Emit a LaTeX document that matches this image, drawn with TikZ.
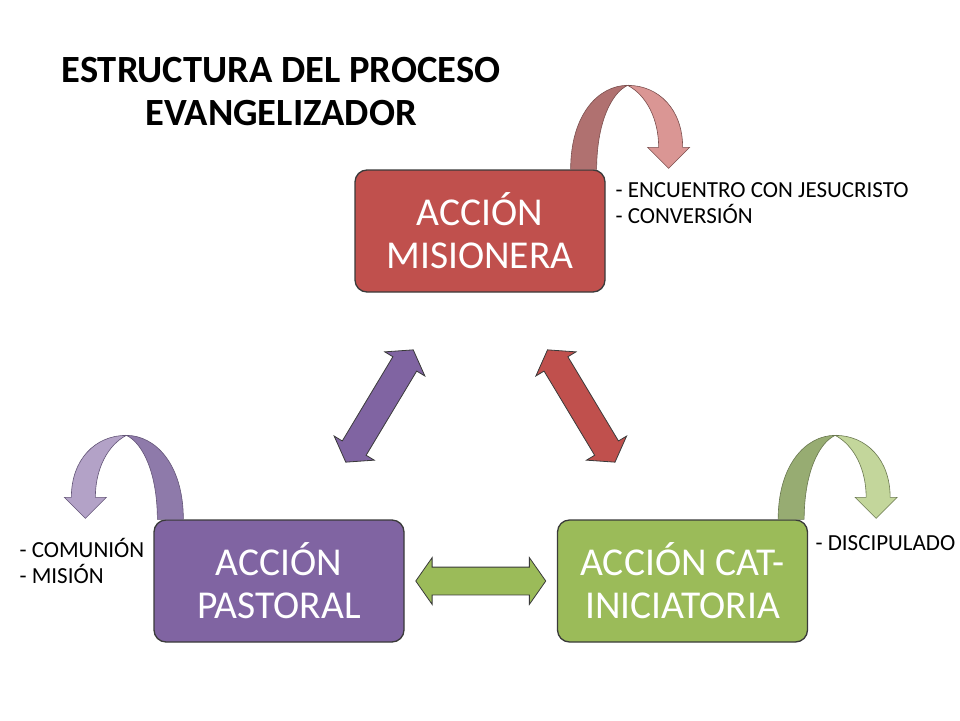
\documentclass[tikz,border=0pt]{standalone}
\usepackage{fontspec}
\setmainfont{Carlito}
\usetikzlibrary{shapes.arrows,calc}

\definecolor{rojo}{HTML}{C0504D}
\definecolor{rojoosc}{HTML}{B07170}
\definecolor{rojocla}{HTML}{DA9694}
\definecolor{morado}{HTML}{8064A2}
\definecolor{moradoosc}{HTML}{8E7AAA}
\definecolor{moradocla}{HTML}{B3A2C7}
\definecolor{verde}{HTML}{9BBB59}
\definecolor{verdeosc}{HTML}{97AC72}
\definecolor{verdecla}{HTML}{C3D69B}
\definecolor{borde}{HTML}{3A3A3A}

\tikzset{
  accion/.style={draw=borde, line width=1.3pt, rounded corners=12pt,
    minimum width=250pt, minimum height=122pt, text=white, align=center,
    font=\fontsize{39.5}{43}\selectfont},
  enlace/.style={double arrow, draw=borde, line width=0.8pt,
    minimum height=131pt, inner xsep=0pt, inner ysep=13.5pt,
    double arrow head extend=9.5pt, double arrow tip angle=110},
  nota/.style={align=left, anchor=west, font=\fontsize{23}{26}\selectfont}
}

% flecha curva: #1 tramo que sube, #2 tramo que baja
\newcommand{\vuelta}[2]{%
  \filldraw[fill=#1, draw=#1!70!black, line width=0.6pt]
    (0,0) .. controls (0,-55) and (28,-84) .. (57,-84)
    .. controls (40,-76) and (26,-45) .. (26,0) -- cycle;
  \filldraw[fill=#2, draw=#1!70!black, line width=0.6pt]
    (57,-84) .. controls (88,-84) and (112,-60) .. (112,-22)
    -- (119,-22) -- (98,-1) -- (77,-22) -- (88,-22)
    .. controls (88,-50) and (76,-74) .. (57,-84) -- cycle;
}

\begin{document}
\begin{tikzpicture}[x=1pt,y=-1pt]
  \useasboundingbox (0,0) rectangle (960,720);

  \node[align=center, font=\fontsize{38.5}{43}\selectfont\bfseries] (titulo)
    at (281,92) {ESTRUCTURA DEL PROCESO\\EVANGELIZADOR};

  \node[accion, fill=rojo] (mision) at (480,231) {ACCIÓN\\MISIONERA};
  \node[accion, fill=morado] (pastoral) at (279,581) {ACCIÓN\\PASTORAL};
  \node[accion, fill=verde] (catequesis) at (682.5,581) {ACCIÓN CAT-\\INICIATORIA};

  % lazos entre las acciones
  \node[enlace, fill=morado, rotate=59] (e1) at ($(pastoral)!0.5!(mision)$) {};
  \node[enlace, fill=rojo, rotate=-59] (e2) at ($(mision)!0.5!(catequesis)$) {};
  \node[enlace, fill=verde, minimum height=130pt] (e3) at ($(pastoral)!0.5!(catequesis)$) {};

  % flechas curvas
  \begin{scope}[shift={([xshift=-35pt]mision.north east)}]
    \vuelta{rojoosc}{rojocla}
  \end{scope}
  \begin{scope}[shift={([xshift=-30pt]catequesis.north east)}]
    \vuelta{verdeosc}{verdecla}
  \end{scope}
  \begin{scope}[shift={([xshift=30pt]pastoral.north west)}, xscale=-1]
    \vuelta{moradoosc}{moradocla}
  \end{scope}

  \node[nota] (n1) at (612,203) {- ENCUENTRO CON JESUCRISTO\\- CONVERSIÓN};
  \node[nota] (n2) at (16,561) {- COMUNIÓN\\- MISIÓN};
  \node[nota] (n3) at (812,543) {- DISCIPULADO};
\end{tikzpicture}
\end{document}
